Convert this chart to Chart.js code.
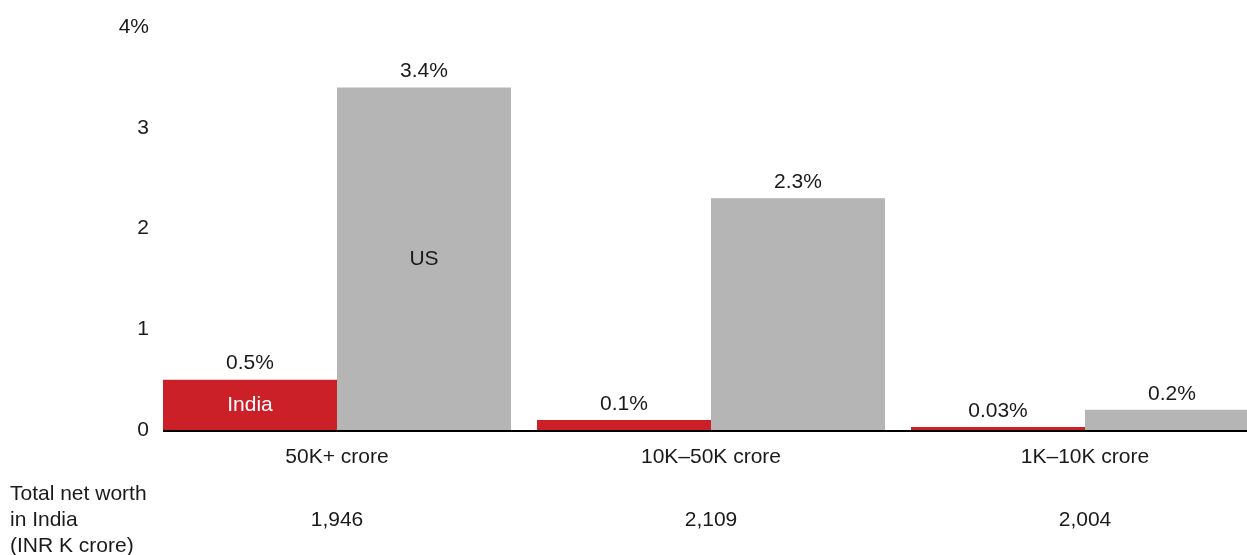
<!DOCTYPE html>
<html>
<head>
<meta charset="utf-8">
<script src="https://cdn.jsdelivr.net/npm/chart.js@4"></script>
<style>
  html, body { margin: 0; padding: 0; background: #fff; }
  #frame { width: 1247px; height: 555px; overflow: hidden; position: relative; }
  #box { width: 1290px; height: 555px; position: absolute; left: 0; top: 0; }
</style>
</head>
<body>
<div id="frame"><div id="box"><canvas id="chart"></canvas></div></div>
<script>
// Data
const categories = ['50K+ crore', '10K\u201350K crore', '1K\u201310K crore'];
const indiaShare = [0.5, 0.1, 0.03];
const usShare = [3.4, 2.3, 0.2];
const netWorthIndia = [1946, 2109, 2004];
const yTicks = [0, 1, 2, 3, 4];
const netWorthTitle = ['Total net worth', 'in India', '(INR K crore)'];

const RED = '#cc2029';
const GREY = '#b4b5b4';
const TEXT = '#1a1a1a';
const FONT = '"Liberation Sans", Arial, sans-serif';

// extra drawing: baseline, value labels, series names, net worth row
const annotations = {
  id: 'annotations',
  afterDatasetsDraw(chart) {
    const ctx = chart.ctx;
    const area = chart.chartArea;
    const x = chart.scales.x;

    ctx.save();
    ctx.font = '21px ' + FONT;
    ctx.textAlign = 'center';
    ctx.textBaseline = 'middle';

    // value labels above every bar
    chart.data.datasets.forEach((ds, di) => {
      const meta = chart.getDatasetMeta(di);
      meta.data.forEach((bar, i) => {
        ctx.fillStyle = TEXT;
        ctx.fillText(ds.data[i] + '%', bar.x, bar.y - 16);
      });
    });

    // series names inside the first pair of bars
    const indiaBar = chart.getDatasetMeta(0).data[0];
    const usBar = chart.getDatasetMeta(1).data[0];
    ctx.fillStyle = '#ffffff';
    ctx.fillText('India', indiaBar.x, (indiaBar.y + indiaBar.base) / 2);
    ctx.fillStyle = TEXT;
    ctx.fillText('US', usBar.x, (usBar.y + usBar.base) / 2);

    // baseline from the first bar to the right edge
    const left = indiaBar.x - indiaBar.width / 2;
    ctx.strokeStyle = '#000';
    ctx.lineWidth = 2;
    ctx.beginPath();
    ctx.moveTo(left, area.bottom + 1);
    ctx.lineTo(area.right + 20, area.bottom + 1);
    ctx.stroke();

    // net worth row under the axis
    ctx.fillStyle = TEXT;
    ctx.textAlign = 'left';
    netWorthTitle.forEach((line, i) => {
      ctx.fillText(line, 10, 494 + i * 26);
    });
    ctx.textAlign = 'center';
    netWorthIndia.forEach((v, i) => {
      ctx.fillText(v.toLocaleString('en-US'), x.getPixelForValue(i), 520);
    });
    ctx.restore();
  }
};

new Chart(document.getElementById('chart'), {
  type: 'bar',
  data: {
    labels: categories,
    datasets: [
      { label: 'India', data: indiaShare, backgroundColor: RED },
      { label: 'US', data: usShare, backgroundColor: GREY }
    ]
  },
  options: {
    responsive: true,
    maintainAspectRatio: false,
    animation: false,
    datasets: {
      bar: { categoryPercentage: 348 / 374, barPercentage: 1, borderWidth: 0 }
    },
    layout: { padding: { top: 27, right: 18, left: 0, bottom: 0 } },
    plugins: {
      legend: { display: false },
      tooltip: { enabled: false }
    },
    scales: {
      x: {
        grid: { display: false, drawTicks: false },
        border: { display: false },
        ticks: { color: TEXT, font: { family: FONT, size: 21 }, padding: 15, maxRotation: 0 },
        afterFit(scale) { scale.height = 125; }
      },
      y: {
        min: 0,
        max: 4,
        grid: { display: false, drawTicks: false },
        border: { display: false },
        afterBuildTicks(scale) { scale.ticks = yTicks.map(v => ({ value: v })); },
        ticks: {
          color: TEXT,
          font: { family: FONT, size: 21 },
          padding: 1,
          callback: v => (v === 4 ? v + '%' : String(v))
        },
        afterFit(scale) { scale.width = 150; }
      }
    }
  },
  plugins: [annotations]
});
</script>
</body>
</html>
